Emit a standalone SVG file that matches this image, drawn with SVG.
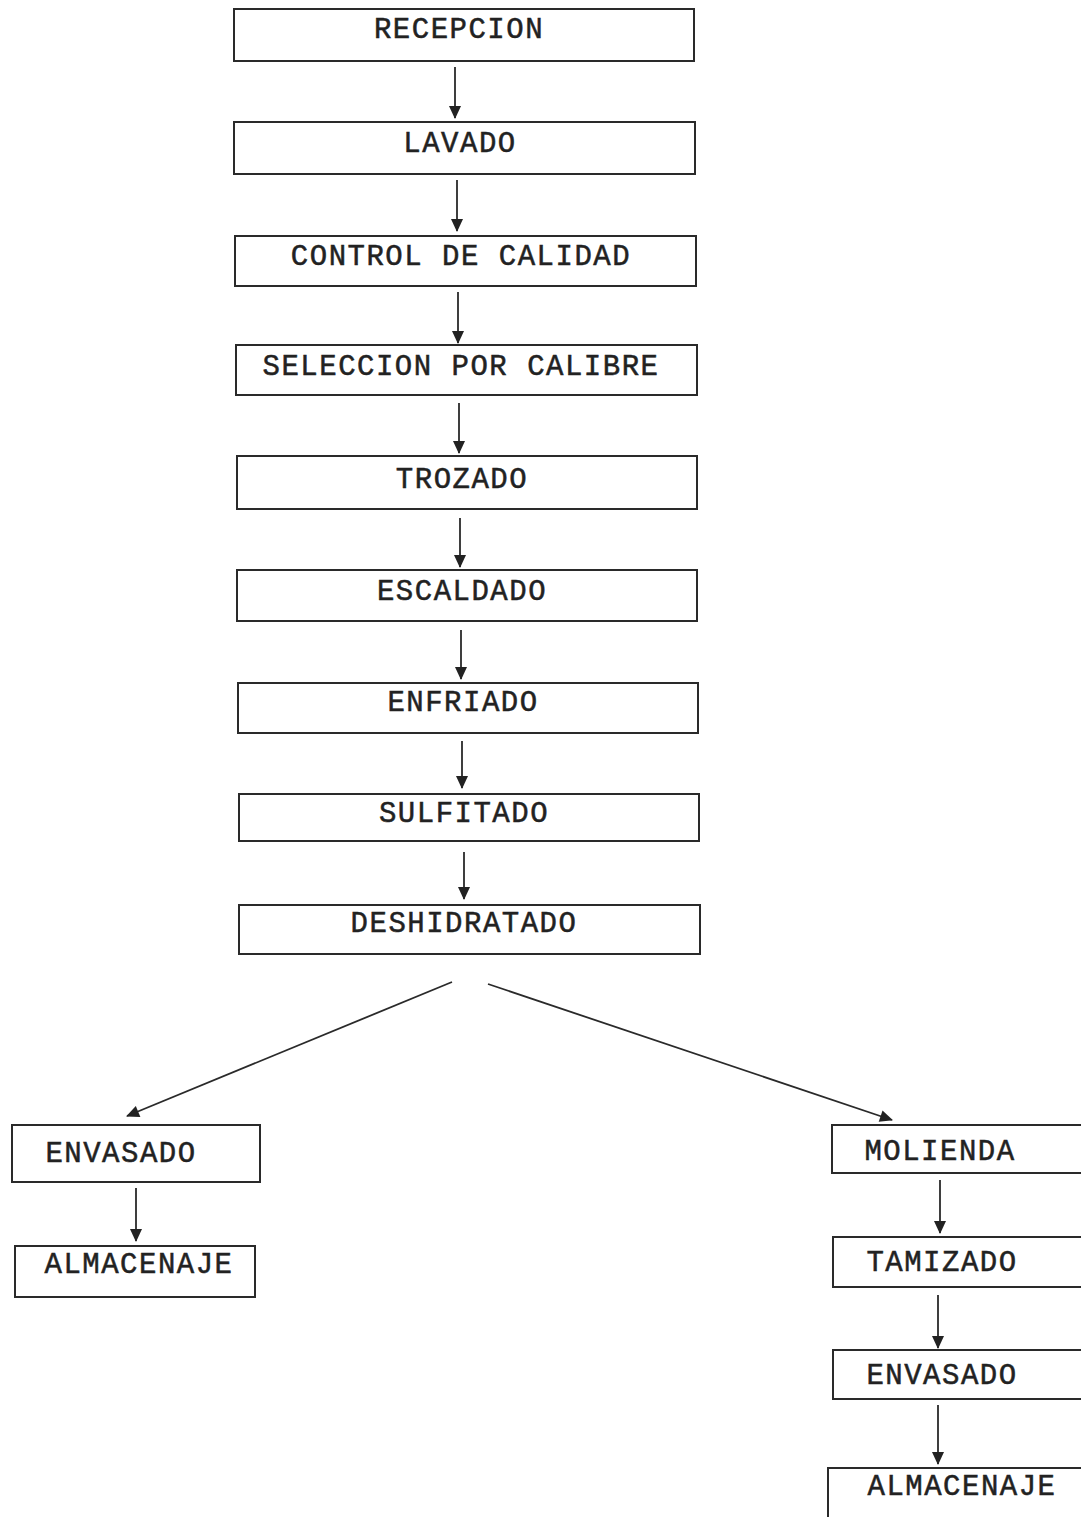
<svg xmlns="http://www.w3.org/2000/svg" width="1081" height="1517" viewBox="0 0 1081 1517">
<style>
  .box{fill:none;stroke:#2a2a2a;stroke-width:2}
  .lbl{font-family:"Liberation Mono","Courier New",monospace;font-size:29px;letter-spacing:1.5px;fill:#222;text-anchor:middle;stroke:#222;stroke-width:0.5}
  .con{stroke:#2a2a2a;stroke-width:1.8;fill:none}
</style>
<defs>
  <marker id="ah" markerUnits="userSpaceOnUse" markerWidth="16" markerHeight="16" viewBox="0 0 16 16" refX="14" refY="8" orient="auto">
    <path d="M2,2 L15,8 L2,14 Z" fill="#222"/>
  </marker>
</defs>
<rect width="1081" height="1517" fill="#fff"/>
<g id="n1"><rect class="box" x="234" y="9" width="460" height="52"/><text class="lbl" x="459" y="38">RECEPCION</text></g>
<g id="n2"><rect class="box" x="234" y="122" width="461" height="52"/><text class="lbl" x="460" y="152">LAVADO</text></g>
<g id="n3"><rect class="box" x="235" y="236" width="461" height="50"/><text class="lbl" x="461" y="265">CONTROL DE CALIDAD</text></g>
<g id="n4"><rect class="box" x="236" y="345" width="461" height="50"/><text class="lbl" x="461" y="375">SELECCION POR CALIBRE</text></g>
<g id="n5"><rect class="box" x="237" y="456" width="460" height="53"/><text class="lbl" x="462" y="488">TROZADO</text></g>
<g id="n6"><rect class="box" x="237" y="570" width="460" height="51"/><text class="lbl" x="462" y="600">ESCALDADO</text></g>
<g id="n7"><rect class="box" x="238" y="683" width="460" height="50"/><text class="lbl" x="463" y="711">ENFRIADO</text></g>
<g id="n8"><rect class="box" x="239" y="794" width="460" height="47"/><text class="lbl" x="464" y="822">SULFITADO</text></g>
<g id="n9"><rect class="box" x="239" y="905" width="461" height="49"/><text class="lbl" x="464" y="932">DESHIDRATADO</text></g>
<g id="l1"><rect class="box" x="12" y="1125" width="248" height="57"/><text class="lbl" x="121" y="1162">ENVASADO</text></g>
<g id="l2"><rect class="box" x="15" y="1246" width="240" height="51"/><text class="lbl" x="139" y="1273">ALMACENAJE</text></g>
<g id="r1"><rect class="box" x="832" y="1125" width="260" height="48"/><text class="lbl" x="940" y="1160">MOLIENDA</text></g>
<g id="r2"><rect class="box" x="833" y="1237" width="260" height="50"/><text class="lbl" x="942" y="1271">TAMIZADO</text></g>
<g id="r3"><rect class="box" x="833" y="1350" width="260" height="49"/><text class="lbl" x="942" y="1384">ENVASADO</text></g>
<g id="r4"><rect class="box" x="828" y="1468" width="265" height="60"/><text class="lbl" x="962" y="1495">ALMACENAJE</text></g>
<g id="connectors">
  <line class="con" x1="455" y1="67" x2="455" y2="118" marker-end="url(#ah)"/>
  <line class="con" x1="457" y1="180" x2="457" y2="231" marker-end="url(#ah)"/>
  <line class="con" x1="458" y1="292" x2="458" y2="343" marker-end="url(#ah)"/>
  <line class="con" x1="459" y1="403" x2="459" y2="453" marker-end="url(#ah)"/>
  <line class="con" x1="460" y1="518" x2="460" y2="567" marker-end="url(#ah)"/>
  <line class="con" x1="461" y1="630" x2="461" y2="679" marker-end="url(#ah)"/>
  <line class="con" x1="462" y1="741" x2="462" y2="788" marker-end="url(#ah)"/>
  <line class="con" x1="464" y1="852" x2="464" y2="899" marker-end="url(#ah)"/>
  <line class="con" x1="452" y1="982" x2="127" y2="1116" marker-end="url(#ah)"/>
  <line class="con" x1="488" y1="984" x2="892" y2="1120" marker-end="url(#ah)"/>
  <line class="con" x1="136" y1="1188" x2="136" y2="1241" marker-end="url(#ah)"/>
  <line class="con" x1="940" y1="1180" x2="940" y2="1233" marker-end="url(#ah)"/>
  <line class="con" x1="938" y1="1295" x2="938" y2="1348" marker-end="url(#ah)"/>
  <line class="con" x1="938" y1="1405" x2="938" y2="1464" marker-end="url(#ah)"/>
</g>
</svg>
